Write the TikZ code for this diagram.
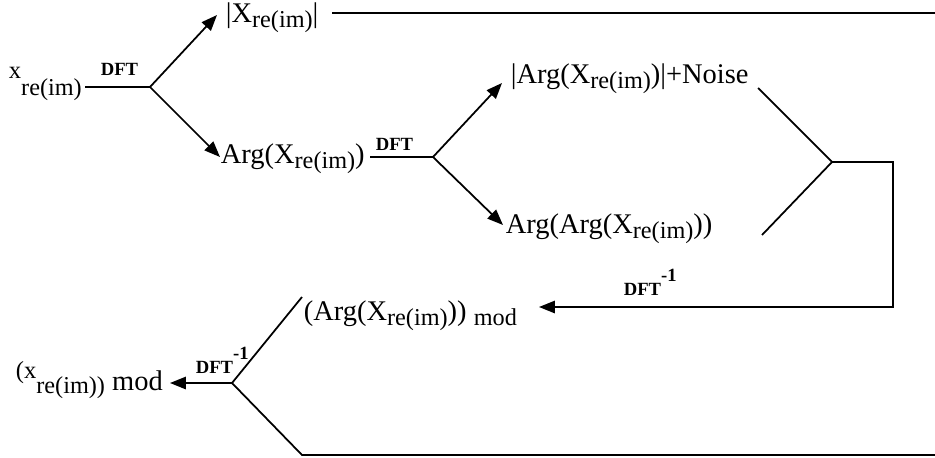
\documentclass[tikz,border=0pt]{standalone}
\usepackage{fontspec}
\setmainfont{Liberation Serif}
\usetikzlibrary{arrows.meta}
\newcommand{\mainsz}{\fontsize{16.2}{19}\selectfont}
\newcommand{\subsz}{\fontsize{13.8}{16}\selectfont}
\newcommand{\dn}[1]{\raisebox{-0.2em}{\subsz #1}}
\newcommand{\upx}[2]{\raisebox{#1}{\fontsize{14}{16}\selectfont #2}}
\newcommand{\inv}{\raisebox{7.5pt}{-1}}

\begin{document}
\begin{tikzpicture}[x=0.02cm,y=-0.02cm,>={Triangle[length=9pt,width=7pt]},line width=1pt,
  lbl/.style={inner sep=0pt,anchor=base west,font=\mainsz},
  op/.style={inner sep=0pt,anchor=base west,font=\fontsize{10.6}{12}\selectfont\bfseries}]
\useasboundingbox (0,0) rectangle (935,457);
\node[lbl] (xin) at (8,95) {\upx{9.6pt}{x}{\subsz re(im)}};
\node[lbl] (mag) at (225,22) {|X\dn{re(im)}|};
\node[lbl] (arg) at (220,163) {Arg(X\dn{re(im)})};
\node[lbl] (argmag) at (510,83) {|Arg(X\dn{re(im)})|+Noise};
\node[lbl] (argarg) at (505,233) {Arg(Arg(X\dn{re(im)}))};
\node[lbl] (argmod) at (303,320) {(Arg(X\dn{re(im)})) \dn{mod}};
\node[lbl] (xmod) at (15,393) {\upx{8.5pt}{(x}{\subsz re(im))} \raisebox{1.7pt}{mod}};
\node[op] (dft1) at (100,75) {DFT};
\node[op] (dft2) at (375,150) {DFT};
\node[op] (dft3) at (623,295) {DFT\inv};
\node[op] (dft4) at (195,373) {DFT\inv};
\coordinate (a0) at (85,87);
\coordinate (b1) at (150,87);
\coordinate (t1) at (217,15);
\coordinate (t2) at (220,157);
\coordinate (a1) at (370,157);
\coordinate (b2) at (433,157);
\coordinate (t3) at (502,83);
\coordinate (t4) at (503,225);
\coordinate (n1) at (758,88);
\coordinate (n2) at (762,235);
\coordinate (j) at (832,162);
\coordinate (c1) at (893,162);
\coordinate (c2) at (893,307);
\coordinate (t5) at (539,307);
\coordinate (u1) at (302,297);
\coordinate (b3) at (232,383);
\coordinate (t6) at (170,383);
\coordinate (l1) at (302,455);
\coordinate (l2) at (935,455);
\coordinate (m0) at (332,13);
\coordinate (m1) at (935,13);
\draw (a0) -- (b1);
\draw[->] (b1) -- (t1);
\draw[->] (b1) -- (t2);
\draw (m0) -- (m1);
\draw (a1) -- (b2);
\draw[->] (b2) -- (t3);
\draw[->] (b2) -- (t4);
\draw (n1) -- (j) -- (n2);
\draw[->] (j) -- (c1) -- (c2) -- (t5);
\draw (u1) -- (b3) -- (l1) -- (l2);
\draw[->] (b3) -- (t6);
\end{tikzpicture}
\end{document}
